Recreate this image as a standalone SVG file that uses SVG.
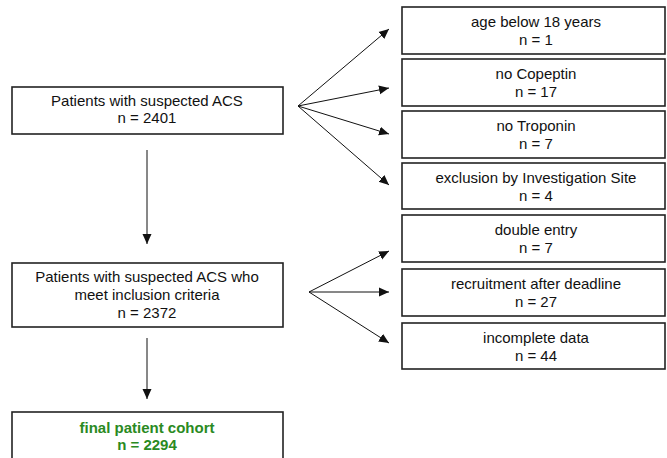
<svg xmlns="http://www.w3.org/2000/svg" width="667" height="458" viewBox="0 0 667 458">
<style>
.box{fill:#fff;stroke:#222;stroke-width:1.6}
.t{font-family:"Liberation Sans",Arial,sans-serif;font-size:15px;fill:#111;text-anchor:middle}
.g{font-family:"Liberation Sans",Arial,sans-serif;font-size:15px;font-weight:bold;fill:#2a8a22;text-anchor:middle}
.c{stroke:#111;stroke-width:1;fill:none;marker-end:url(#ah)}
</style>
<defs>
<marker id="ah" viewBox="0 0 10 10" refX="10" refY="5" markerWidth="10" markerHeight="10" markerUnits="userSpaceOnUse" orient="auto">
<path d="M0,0.5 L10,5 L0,9.5 Z" fill="#111"/>
</marker>
</defs>
<rect width="667" height="458" fill="#fff"/>
<g id="connectors">
<line class="c" x1="147" y1="150" x2="147" y2="244"/>
<line class="c" x1="147" y1="338" x2="147" y2="399"/>
<line class="c" x1="298" y1="106" x2="389" y2="29"/>
<line class="c" x1="298" y1="106" x2="389" y2="88"/>
<line class="c" x1="298" y1="106" x2="389" y2="134"/>
<line class="c" x1="298" y1="106" x2="389" y2="185"/>
<line class="c" x1="309" y1="292" x2="389" y2="251"/>
<line class="c" x1="309" y1="292" x2="389" y2="292"/>
<line class="c" x1="309" y1="292" x2="389" y2="343"/>
</g>
<g id="n1">
<rect class="box" x="12" y="87" width="271" height="47"/>
<text class="t" x="147" y="106">Patients with suspected ACS</text>
<text class="t" x="147" y="123">n = 2401</text>
</g>
<g id="n2">
<rect class="box" x="12" y="263" width="271" height="64"/>
<text class="t" x="147" y="282">Patients with suspected ACS who</text>
<text class="t" x="147" y="300">meet inclusion criteria</text>
<text class="t" x="147" y="318">n = 2372</text>
</g>
<g id="n3">
<rect class="box" x="12" y="412" width="271" height="60"/>
<text class="g" x="147" y="433">final patient cohort</text>
<text class="g" x="147" y="450">n = 2294</text>
</g>
<g id="e1">
<rect class="box" x="402" y="7" width="263" height="47"/>
<text class="t" x="536" y="27">age below 18 years</text>
<text class="t" x="536" y="45">n = 1</text>
</g>
<g id="e2">
<rect class="box" x="402" y="59" width="263" height="47"/>
<text class="t" x="536" y="79">no Copeptin</text>
<text class="t" x="536" y="97">n = 17</text>
</g>
<g id="e3">
<rect class="box" x="402" y="111" width="263" height="47"/>
<text class="t" x="536" y="131">no Troponin</text>
<text class="t" x="536" y="149">n = 7</text>
</g>
<g id="e4">
<rect class="box" x="402" y="163" width="263" height="46"/>
<text class="t" x="536" y="183">exclusion by Investigation Site</text>
<text class="t" x="536" y="201">n = 4</text>
</g>
<g id="e5">
<rect class="box" x="402" y="215" width="263" height="47"/>
<text class="t" x="536" y="235">double entry</text>
<text class="t" x="536" y="253">n = 7</text>
</g>
<g id="e6">
<rect class="box" x="402" y="269" width="263" height="47"/>
<text class="t" x="536" y="289">recruitment after deadline</text>
<text class="t" x="536" y="307">n = 27</text>
</g>
<g id="e7">
<rect class="box" x="402" y="323" width="263" height="46"/>
<text class="t" x="536" y="343">incomplete data</text>
<text class="t" x="536" y="361">n = 44</text>
</g>
</svg>
